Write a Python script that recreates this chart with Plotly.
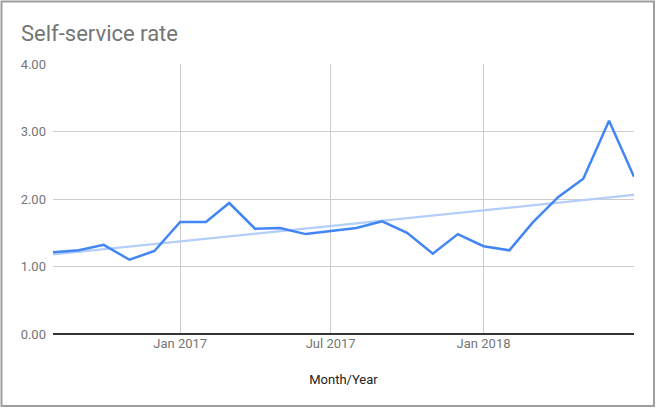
import plotly.graph_objects as go

months = ["2016-08-01", "2016-09-01", "2016-10-01", "2016-11-01", "2016-12-01",
          "2017-01-01", "2017-02-01", "2017-03-01", "2017-04-01", "2017-05-01",
          "2017-06-01", "2017-07-01", "2017-08-01", "2017-09-01", "2017-10-01",
          "2017-11-01", "2017-12-01", "2018-01-01", "2018-02-01", "2018-03-01",
          "2018-04-01", "2018-05-01", "2018-06-01", "2018-07-01"]
rate = [1.21, 1.24, 1.32, 1.10, 1.23, 1.66, 1.66, 1.94, 1.56, 1.57, 1.48, 1.52,
        1.57, 1.67, 1.50, 1.19, 1.48, 1.30, 1.24, 1.65, 2.03, 2.30, 3.16, 2.33]
trend_dates = ["2016-08-01", "2018-07-01"]
trend_values = [1.18, 2.06]
x_tickvals = ["2017-01-01", "2017-07-01", "2018-01-01", "2018-07-01"]
x_ticktext = ["Jan 2017", "Jul 2017", "Jan 2018", ""]
y_tickvals = [0, 1, 2, 3, 4]
y_ticktext = ["0.00", "1.00", "2.00", "3.00", "4.00"]

W, H = 656, 408
L, R, T, B = 53, 22, 64, 74
pw, ph = W - L - R, H - T - B

fig = go.Figure()
fig.add_trace(go.Scatter(x=trend_dates, y=trend_values, mode="lines",
                         line=dict(color="#b3cefa", width=2.2), hoverinfo="skip",
                         showlegend=False))
fig.add_trace(go.Scatter(x=months, y=rate, mode="lines",
                         line=dict(color="#4285f4", width=2.5), showlegend=False))

def px2paper_x(px):
    return (px - L) / pw

def px2paper_y(py):
    return (H - B - py) / ph

fig.add_shape(type="rect", xref="paper", yref="paper",
              x0=px2paper_x(1.5), x1=px2paper_x(654), y0=px2paper_y(406), y1=px2paper_y(1.5),
              line=dict(color="#9e9e9e", width=2), layer="below")

fig.update_layout(
    width=W, height=H,
    margin=dict(l=L, r=R, t=T, b=B),
    paper_bgcolor="white", plot_bgcolor="white",
    font=dict(family="Roboto", size=13, color="#757575"),
    title=dict(text="Self-service rate", x=21 / W, xanchor="left",
               y=1 - 33 / H, yanchor="middle",
               font=dict(family="Roboto", size=22, color="#757575")),
    xaxis=dict(type="date", range=["2016-08-01", "2018-07-01"],
               tickvals=x_tickvals, ticktext=x_ticktext,
               showgrid=True, gridcolor="#cccccc", gridwidth=1,
               zeroline=False, showline=False, ticks="",
               tickfont=dict(size=13, color="#757575"),
               title=dict(text="Month/Year", standoff=24,
                          font=dict(size=13, color="#222222"))),
    yaxis=dict(range=[0, 4], tickvals=y_tickvals, ticktext=y_ticktext,
               showgrid=True, gridcolor="#cccccc", gridwidth=1,
               zeroline=True, zerolinecolor="#333333", zerolinewidth=1.5,
               showline=False, ticks="", ticklabelstandoff=6,
               tickfont=dict(size=13, color="#757575")),
)

fig.write_html("out.html", config={"displayModeBar": False},
               post_script="document.body.style.margin='0';document.body.style.overflow='hidden';")
